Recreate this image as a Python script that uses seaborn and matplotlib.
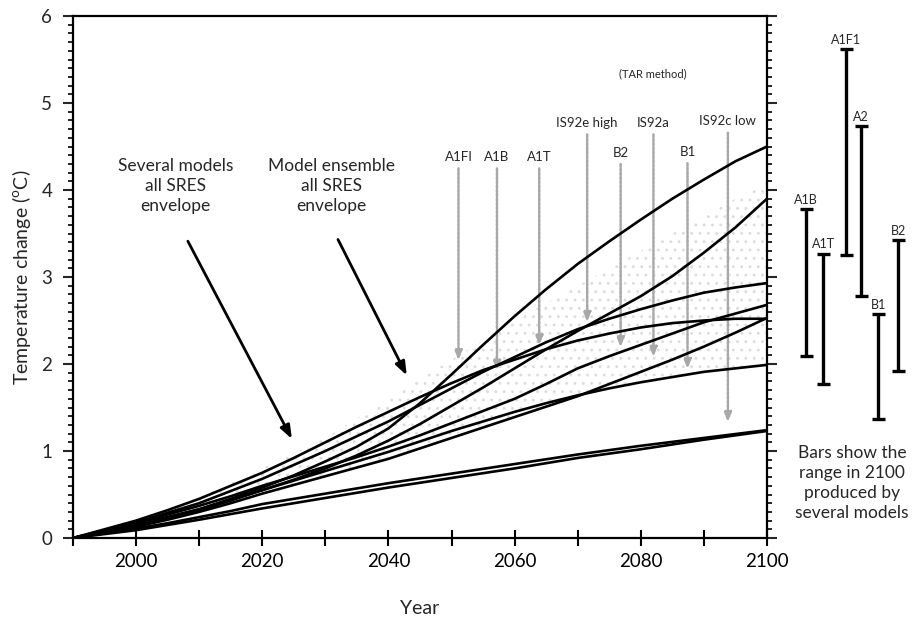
import matplotlib
matplotlib.use("Agg")
import matplotlib.pyplot as plt
import seaborn as sns
import pandas as pd

# ---- data -------------------------------------------------------------
years = list(range(1990, 2101, 5))

a1fi = [0, 0.07, 0.15, 0.24, 0.33, 0.45, 0.58, 0.72, 0.88, 1.05, 1.26, 1.55,
        1.88, 2.22, 2.55, 2.86, 3.15, 3.41, 3.66, 3.90, 4.12, 4.33, 4.50]
a2 = [0, 0.07, 0.15, 0.23, 0.32, 0.43, 0.55, 0.67, 0.80, 0.95, 1.12, 1.31,
      1.52, 1.73, 1.95, 2.17, 2.38, 2.58, 2.78, 3.01, 3.28, 3.57, 3.90]
a1b = [0, 0.09, 0.18, 0.29, 0.40, 0.54, 0.68, 0.84, 1.00, 1.17, 1.34, 1.53,
       1.72, 1.91, 2.08, 2.25, 2.40, 2.52, 2.63, 2.73, 2.82, 2.88, 2.93]
b2 = [0, 0.08, 0.17, 0.27, 0.37, 0.48, 0.60, 0.71, 0.82, 0.93, 1.05, 1.18,
      1.32, 1.46, 1.60, 1.77, 1.95, 2.09, 2.22, 2.35, 2.48, 2.58, 2.68]
a1t = [0, 0.10, 0.20, 0.32, 0.45, 0.60, 0.75, 0.92, 1.10, 1.28, 1.45, 1.62,
       1.78, 1.93, 2.05, 2.17, 2.27, 2.35, 2.42, 2.47, 2.50, 2.52, 2.52]
is92a = [0, 0.06, 0.13, 0.21, 0.30, 0.40, 0.51, 0.61, 0.71, 0.81, 0.91, 1.03,
         1.15, 1.27, 1.39, 1.51, 1.63, 1.77, 1.91, 2.05, 2.20, 2.36, 2.53]
b1 = [0, 0.07, 0.15, 0.24, 0.33, 0.44, 0.55, 0.66, 0.77, 0.88, 0.99, 1.11,
      1.23, 1.34, 1.45, 1.55, 1.64, 1.72, 1.79, 1.85, 1.91, 1.95, 1.99]
low_upper = [0, 0.055, 0.11, 0.17, 0.24, 0.31, 0.39, 0.45, 0.51, 0.57, 0.63, 0.685,
             0.74, 0.795, 0.85, 0.905, 0.96, 1.01, 1.06, 1.105, 1.15, 1.195, 1.24]
low_lower = [0, 0.045, 0.09, 0.15, 0.21, 0.275, 0.34, 0.40, 0.46, 0.52, 0.58, 0.635,
             0.69, 0.745, 0.80, 0.86, 0.92, 0.97, 1.02, 1.075, 1.13, 1.18, 1.23]

env_years = [2000, 2010, 2020, 2030, 2040, 2050, 2060, 2070, 2080, 2090, 2100]
env_low = [0.12, 0.28, 0.48, 0.70, 0.92, 1.18, 1.40, 1.62, 1.80, 1.92, 2.00]
env_high = [0.20, 0.47, 0.80, 1.15, 1.60, 2.05, 2.50, 2.90, 3.30, 3.70, 4.10]

marker_labels = ["A1FI", "A1B", "A1T", "IS92e high", "B2", "IS92a", "B1", "IS92c low"]
marker_years = [2051.1, 2057.2, 2063.9, 2071.5, 2076.8, 2082.0, 2087.4, 2093.8]
marker_values = [2.01, 1.89, 2.18, 2.45, 2.16, 2.05, 1.91, 1.30]
marker_label_levels = [4.38, 4.38, 4.38, 4.77, 4.43, 4.77, 4.44, 4.79]

range_labels = ["A1B", "A1T", "A1F1", "A2", "B1", "B2"]
range_low = [2.09, 1.77, 3.25, 2.78, 1.37, 1.92]
range_high = [3.78, 3.27, 5.62, 4.73, 2.57, 3.42]

curves = {
    "A1FI": a1fi, "A2": a2, "A1B": a1b, "B2": b2, "A1T": a1t,
    "IS92a": is92a, "B1": b1, "low a": low_upper, "low b": low_lower,
}
df = pd.DataFrame(
    [(name, y, v) for name, vals in curves.items() for y, v in zip(years, vals)],
    columns=["scenario", "year", "temp"],
)

# ---- style ------------------------------------------------------------
sns.set_style("ticks")
plt.rcParams["font.family"] = ["Lato", "DejaVu Sans"]
plt.rcParams["mathtext.fontset"] = "custom"
plt.rcParams["mathtext.rm"] = "Lato"
plt.rcParams["hatch.linewidth"] = 0.9

fig = plt.figure(figsize=(9.18, 6.17), dpi=100)
ax = fig.add_axes([73 / 918, 1 - 538 / 617, (767 - 73) / 918, (538 - 16) / 617])

# faint stippled envelope
ax.fill_between(env_years, env_low, env_high, facecolor="none", edgecolor="#dddddd",
                hatch="..", linewidth=0, zorder=1)

sns.lineplot(data=df, x="year", y="temp", units="scenario", estimator=None,
             color="black", linewidth=1.9, ax=ax, zorder=3, legend=False)

ax.set_xlim(1990, 2100)
ax.set_ylim(0, 6)
ax.set_xticks(range(2000, 2101, 20))
ax.set_xticks(range(1990, 2100, 20), minor=True)
ax.set_yticks(range(0, 7))
ax.set_yticks([i / 10 for i in range(0, 61)], minor=True)
for s in ax.spines.values():
    s.set_linewidth(1.6)
    s.set_color("black")

ax.tick_params(axis="x", which="both", direction="inout", length=11, width=1.5,
               labelsize=13.5, pad=5, top=False, colors="black")
ax.tick_params(axis="y", which="major", direction="out", length=7, width=1.5,
               labelsize=13.5, left=True, right=True, pad=8)
ax.tick_params(axis="y", which="minor", direction="out", length=3.5, width=1.4,
               left=True, right=True)
ax.set_xlabel("Year", fontsize=14, labelpad=22)
ax.set_ylabel("Temperature change ($^{\\mathrm{o}}$C)", fontsize=14, labelpad=6)

# grey pointer arrows with scenario names
for lab, xr, tip, lvl in zip(marker_labels, marker_years, marker_values, marker_label_levels):
    ax.text(xr, lvl, lab, ha="center", va="center", fontsize=9.5, zorder=4)
    ax.annotate("", xy=(xr, tip), xytext=(xr, lvl - 0.1),
                arrowprops=dict(arrowstyle="-|>,head_width=0.22,head_length=0.55",
                                color="#a8a8a8", lw=1.8, linestyle=(0, (1, 0.7))),
                zorder=2)
ax.text(2081.9, 5.33, "(TAR method)", ha="center", va="center", fontsize=8)

# envelope callouts
ax.text(2006.2, 4.05, "Several models\nall SRES\nenvelope", ha="center", va="center",
        fontsize=12.5, linespacing=1.3)
ax.text(2031.0, 4.05, "Model ensemble\nall SRES\nenvelope", ha="center", va="center",
        fontsize=12.5, linespacing=1.3)
ax.annotate("", xy=(2024.9, 1.11), xytext=(2008.0, 3.44),
            arrowprops=dict(arrowstyle="-|>,head_width=0.3,head_length=0.8",
                            color="black", lw=2.0))
ax.annotate("", xy=(2043.1, 1.84), xytext=(2031.8, 3.46),
            arrowprops=dict(arrowstyle="-|>,head_width=0.3,head_length=0.8",
                            color="black", lw=2.0))

# ranges in 2100 across model tunings
bar_x = [26, 43, 66, 81, 98, 118]
rax = fig.add_axes([780 / 918, 1 - 538 / 617, 138 / 918, (538 - 16) / 617])
rax.set_xlim(0, 138)
rax.set_ylim(0, 6)
rax.axis("off")
for xb, lo, hi, lab in zip(bar_x, range_low, range_high, range_labels):
    rax.vlines(xb, lo, hi, color="black", lw=2.4)
    rax.hlines([lo, hi], xb - 6.5, xb + 6.5, color="black", lw=2.4)
    rax.text(xb, hi + 0.04, lab, ha="center", va="bottom", fontsize=9)
rax.text(72, 0.63, "Bars show the\nrange in 2100\nproduced by\nseveral models",
         ha="center", va="center", fontsize=12.5, linespacing=1.3)

fig.savefig("out.png", dpi=100)
